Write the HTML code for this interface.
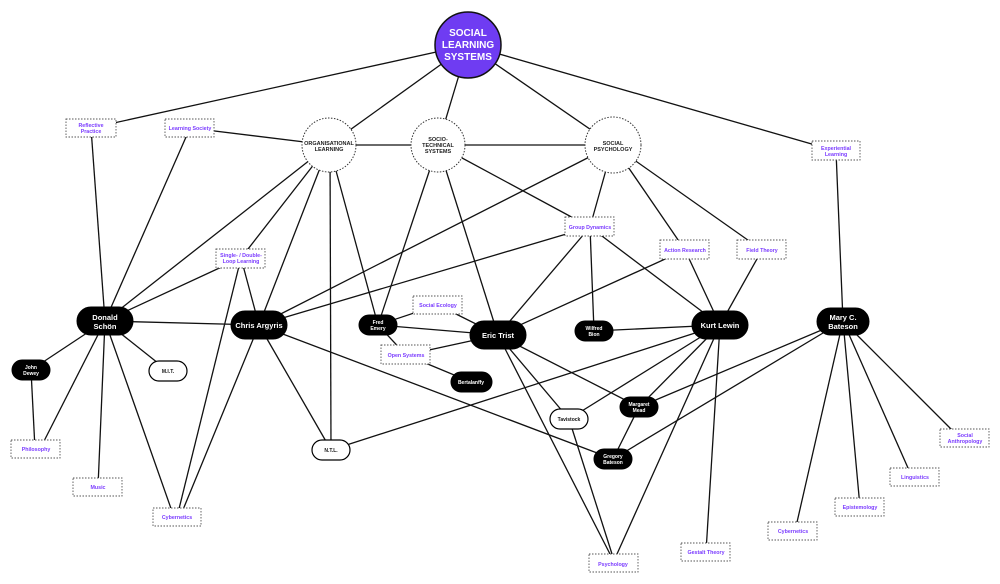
<!DOCTYPE html>
<html><head><meta charset="utf-8"><style>
html,body{margin:0;padding:0;background:#fff;}
svg{display:block;font-family:"Liberation Sans",sans-serif;font-weight:bold;}
</style></head><body>
<svg width="1000" height="584" viewBox="0 0 1000 584" xmlns="http://www.w3.org/2000/svg">
<g stroke="#111" stroke-width="1.3" fill="none">
<line x1="468" y1="45" x2="91" y2="128"/>
<line x1="468" y1="45" x2="329" y2="145"/>
<line x1="468" y1="45" x2="438" y2="145"/>
<line x1="468" y1="45" x2="613" y2="145"/>
<line x1="468" y1="45" x2="836" y2="151"/>
<line x1="329" y1="145" x2="190" y2="128"/>
<line x1="329" y1="145" x2="613" y2="145"/>
<line x1="91" y1="128" x2="105" y2="321"/>
<line x1="190" y1="128" x2="105" y2="321"/>
<line x1="329" y1="145" x2="105" y2="321"/>
<line x1="329" y1="145" x2="241" y2="258"/>
<line x1="329" y1="145" x2="259" y2="325"/>
<line x1="330" y1="145" x2="331" y2="450"/>
<line x1="329" y1="145" x2="378" y2="325"/>
<line x1="241" y1="258" x2="105" y2="321"/>
<line x1="241" y1="258" x2="259" y2="325"/>
<line x1="241" y1="258" x2="177" y2="517"/>
<line x1="438" y1="145" x2="378" y2="325"/>
<line x1="438" y1="145" x2="498" y2="335"/>
<line x1="438" y1="145" x2="590" y2="227"/>
<line x1="613" y1="145" x2="259" y2="325"/>
<line x1="590" y1="227" x2="259" y2="325"/>
<line x1="613" y1="145" x2="590" y2="227"/>
<line x1="613" y1="145" x2="685" y2="250"/>
<line x1="613" y1="145" x2="762" y2="250"/>
<line x1="590" y1="227" x2="498" y2="335"/>
<line x1="590" y1="227" x2="594" y2="331"/>
<line x1="590" y1="227" x2="720" y2="325"/>
<line x1="685" y1="250" x2="498" y2="335"/>
<line x1="685" y1="250" x2="720" y2="325"/>
<line x1="762" y1="250" x2="720" y2="325"/>
<line x1="836" y1="151" x2="843" y2="321"/>
<line x1="105" y1="321" x2="259" y2="325"/>
<line x1="105" y1="321" x2="31" y2="370"/>
<line x1="105" y1="321" x2="40" y2="449"/>
<line x1="105" y1="321" x2="98" y2="487"/>
<line x1="105" y1="321" x2="174" y2="517"/>
<line x1="105" y1="321" x2="168" y2="371"/>
<line x1="31" y1="370" x2="35" y2="449"/>
<line x1="259" y1="325" x2="180" y2="517"/>
<line x1="259" y1="325" x2="331" y2="450"/>
<line x1="259" y1="325" x2="613" y2="459"/>
<line x1="378" y1="325" x2="438" y2="305"/>
<line x1="378" y1="325" x2="498" y2="335"/>
<line x1="378" y1="325" x2="406" y2="355"/>
<line x1="438" y1="305" x2="498" y2="335"/>
<line x1="406" y1="355" x2="498" y2="335"/>
<line x1="406" y1="355" x2="471" y2="382"/>
<line x1="498" y1="335" x2="569" y2="419"/>
<line x1="498" y1="335" x2="610" y2="554"/>
<line x1="498" y1="335" x2="639" y2="407"/>
<line x1="594" y1="331" x2="720" y2="325"/>
<line x1="720" y1="325" x2="331" y2="450"/>
<line x1="720" y1="325" x2="569" y2="419"/>
<line x1="720" y1="325" x2="639" y2="407"/>
<line x1="720" y1="325" x2="617" y2="554"/>
<line x1="720" y1="325" x2="706" y2="552"/>
<line x1="569" y1="419" x2="612" y2="554"/>
<line x1="639" y1="407" x2="613" y2="459"/>
<line x1="843" y1="321" x2="639" y2="407"/>
<line x1="843" y1="321" x2="613" y2="459"/>
<line x1="843" y1="321" x2="795" y2="531"/>
<line x1="843" y1="321" x2="860" y2="507"/>
<line x1="843" y1="321" x2="912" y2="477"/>
<line x1="843" y1="321" x2="960" y2="438"/>
</g>
<!-- circles -->
<circle cx="468" cy="45" r="33" fill="#6f3cf2" stroke="#111" stroke-width="1.5"/>
<text x="468" y="45" fill="#fff" font-size="10" text-anchor="middle"><tspan x="468" y="36">SOCIAL</tspan><tspan x="468" y="48">LEARNING</tspan><tspan x="468" y="60">SYSTEMS</tspan></text>
<g fill="#fff" stroke="#333" stroke-width="1" stroke-dasharray="1.5,1.5">
<circle cx="329" cy="145" r="27"/>
<circle cx="438" cy="145" r="27"/>
<circle cx="613" cy="145" r="28"/>
</g>
<g font-size="5.5" fill="#222" text-anchor="middle">
<text x="329" y="145">ORGANISATIONAL</text><text x="329" y="151">LEARNING</text>
<text x="438" y="141">SOCIO-</text><text x="438" y="147">TECHNICAL</text><text x="438" y="153">SYSTEMS</text>
<text x="613" y="145">SOCIAL</text><text x="613" y="151">PSYCHOLOGY</text>
</g>
<!-- dotted boxes -->
<g fill="#fff" stroke="#555" stroke-width="0.9" stroke-dasharray="1.5,1.5">
<rect x="66" y="119" width="50" height="18"/>
<rect x="165" y="119" width="49" height="18"/>
<rect x="812" y="141" width="48" height="19"/>
<rect x="216" y="249" width="49" height="19"/>
<rect x="565" y="217" width="49" height="19"/>
<rect x="660" y="240" width="49" height="19"/>
<rect x="737" y="240" width="49" height="19"/>
<rect x="413" y="296" width="49" height="18"/>
<rect x="381" y="345" width="49" height="19"/>
<rect x="11" y="440" width="49" height="18"/>
<rect x="73" y="478" width="49" height="18"/>
<rect x="153" y="508" width="48" height="18"/>
<rect x="589" y="554" width="49" height="18"/>
<rect x="681" y="543" width="49" height="18"/>
<rect x="768" y="522" width="49" height="18"/>
<rect x="835" y="498" width="49" height="18"/>
<rect x="890" y="468" width="49" height="18"/>
<rect x="940" y="429" width="49" height="18"/>
</g>
<g font-size="5.3" fill="#7b3cff" text-anchor="middle">
<text x="91" y="127">Reflective</text><text x="91" y="133">Practice</text>
<text x="190" y="130">Learning Society</text>
<text x="836" y="150">Experiential</text><text x="836" y="156">Learning</text>
<text x="241" y="257">Single- / Double-</text><text x="241" y="263">Loop Learning</text>
<text x="590" y="229">Group Dynamics</text>
<text x="685" y="252">Action Research</text>
<text x="762" y="252">Field Theory</text>
<text x="438" y="307">Social Ecology</text>
<text x="406" y="357">Open Systems</text>
<text x="36" y="451">Philosophy</text>
<text x="98" y="489">Music</text>
<text x="177" y="519">Cybernetics</text>
<text x="613" y="566">Psychology</text>
<text x="706" y="554">Gestalt Theory</text>
<text x="793" y="533">Cybernetics</text>
<text x="860" y="509">Epistemology</text>
<text x="915" y="479">Linguistics</text>
<text x="965" y="437">Social</text><text x="965" y="443">Anthropology</text>
</g>
<!-- pills -->
<g fill="#000" stroke="#000">
<rect x="77" y="307" width="56" height="28" rx="14"/>
<rect x="231" y="311" width="56" height="28" rx="14"/>
<rect x="359" y="315" width="38" height="20" rx="10"/>
<rect x="470" y="321" width="56" height="28" rx="14"/>
<rect x="575" y="321" width="38" height="20" rx="10"/>
<rect x="692" y="311" width="56" height="28" rx="14"/>
<rect x="817" y="308" width="52" height="27" rx="13.5"/>
<rect x="12" y="360" width="38" height="20" rx="10"/>
<rect x="451" y="372" width="41" height="20" rx="10"/>
<rect x="620" y="397" width="38" height="20" rx="10"/>
<rect x="594" y="449" width="38" height="20" rx="10"/>
</g>
<g fill="#fff" stroke="#000" stroke-width="1.2">
<rect x="149" y="361" width="38" height="20" rx="10"/>
<rect x="550" y="409" width="38" height="20" rx="10"/>
<rect x="312" y="440" width="38" height="20" rx="10"/>
</g>
<g fill="#fff" text-anchor="middle">
<text font-size="7.5" x="105" y="320">Donald</text><text font-size="7.5" x="105" y="329">Schön</text>
<text font-size="7.5" x="259" y="328">Chris Argyris</text>
<text font-size="7.5" x="498" y="338">Eric Trist</text>
<text font-size="7.5" x="720" y="328">Kurt Lewin</text>
<text font-size="7.5" x="843" y="320">Mary C.</text><text font-size="7.5" x="843" y="329">Bateson</text>
<g font-size="5">
<text x="378" y="324">Fred</text><text x="378" y="330">Emery</text>
<text x="594" y="330">Wilfred</text><text x="594" y="336">Bion</text>
<text x="31" y="369">John</text><text x="31" y="375">Dewey</text>
<text x="471" y="384">Bertalanffy</text>
<text x="639" y="406">Margaret</text><text x="639" y="412">Mead</text>
<text x="613" y="458">Gregory</text><text x="613" y="464">Bateson</text>
</g>
</g>
<g fill="#111" text-anchor="middle" font-size="5">
<text x="168" y="373">M.I.T.</text>
<text x="569" y="421">Tavistock</text>
<text x="331" y="452">N.T.L.</text>
</g>
</svg>
</body></html>
